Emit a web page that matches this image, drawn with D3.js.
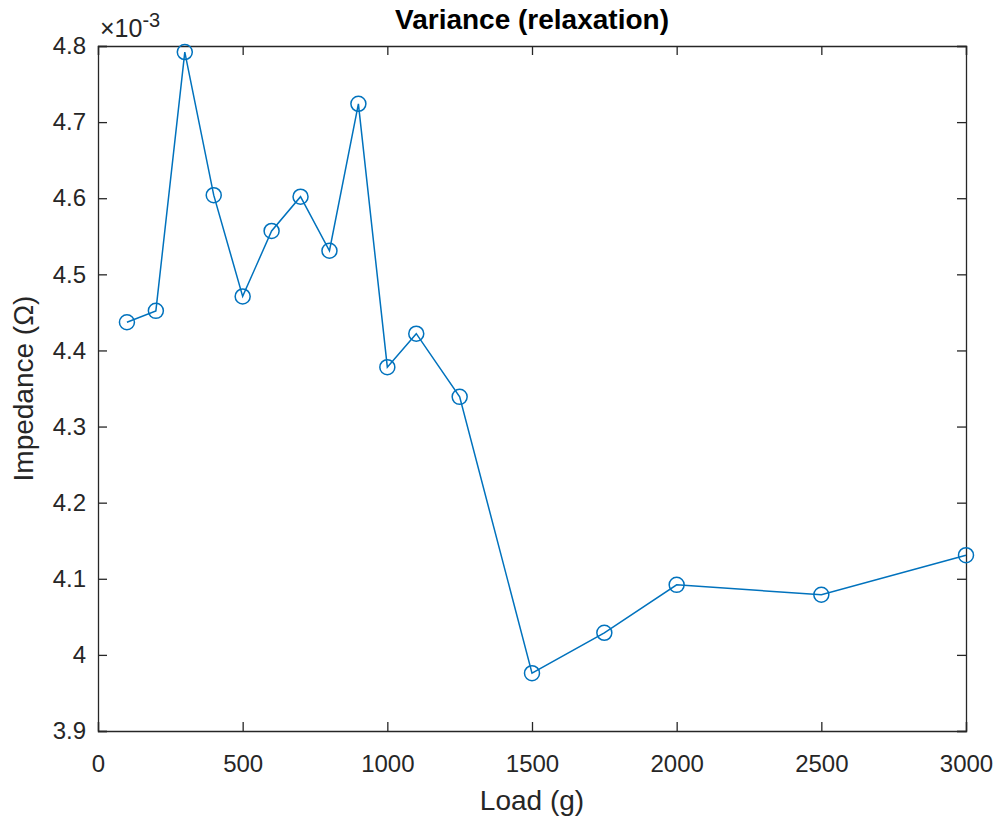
<!DOCTYPE html>
<html>
<head>
<meta charset="utf-8">
<script src="https://cdn.jsdelivr.net/npm/d3@7"></script>
<style>
  body { margin: 0; background: #fff; }
  text { font-family: "Liberation Sans", Arial, sans-serif; fill: #262626; }
</style>
</head>
<body>
<svg id="chart" width="999" height="818"></svg>
<script>
// load in grams
const loads = [100, 200, 300, 400, 500, 600, 700, 800, 900, 1000, 1100, 1250, 1500, 1750, 2000, 2500, 3000];
// impedance variance, in units of 1e-3 ohm
const impedance = [4.437, 4.452, 4.792, 4.604, 4.471, 4.557, 4.602, 4.531, 4.724, 4.378, 4.422, 4.339, 3.976, 4.029, 4.092, 4.079, 4.131];
const xTicks = [0, 500, 1000, 1500, 2000, 2500, 3000];
const yTicks = [3.9, 4, 4.1, 4.2, 4.3, 4.4, 4.5, 4.6, 4.7, 4.8];

const svg = d3.select("#chart");
const margin = {top: 46, right: 33, bottom: 87, left: 98};
const innerWidth = +svg.attr("width") - margin.left - margin.right;
const innerHeight = +svg.attr("height") - margin.top - margin.bottom;
const axisColor = "#262626";
const lineColor = "#0072BD";

const xScale = d3.scaleLinear().domain([0, 3000]).range([0, innerWidth]);
const yScale = d3.scaleLinear().domain([3.9, 4.8]).range([innerHeight, 0]);

const g = svg.append("g")
    .attr("transform", `translate(${margin.left},${margin.top})`);

const tickLen = 9;

// bottom + top axes (ticks pointing inward)
const xAxisG = g.append("g")
    .attr("transform", `translate(0,${innerHeight})`)
    .call(d3.axisBottom(xScale).tickValues(xTicks).tickSize(-tickLen).tickPadding(14).tickFormat(d3.format("d")));
const topAxisG = g.append("g")
    .call(d3.axisTop(xScale).tickValues(xTicks).tickSize(-tickLen));
topAxisG.selectAll("text").remove();

const yAxisG = g.append("g")
    .call(d3.axisLeft(yScale).tickValues(yTicks).tickSize(-tickLen).tickPadding(12).tickFormat(d => d === 4 ? "4" : d3.format(".1f")(d)));
const rightAxisG = g.append("g")
    .attr("transform", `translate(${innerWidth},0)`)
    .call(d3.axisRight(yScale).tickValues(yTicks).tickSize(-tickLen));
rightAxisG.selectAll("text").remove();

g.selectAll(".domain").attr("stroke", axisColor).attr("stroke-width", 1.3);
g.selectAll(".tick line").attr("stroke", axisColor).attr("stroke-width", 1.3);
g.selectAll(".tick text")
    .attr("fill", axisColor)
    .style("font-size", "24px")
    .style("font-family", "'Liberation Sans', Arial, sans-serif");
xAxisG.selectAll(".tick text").attr("y", 41).attr("dy", 0);

// line + markers
const line = d3.line()
    .x((d, i) => xScale(loads[i]))
    .y(d => yScale(d));

g.append("path")
    .datum(impedance)
    .attr("d", line)
    .attr("fill", "none")
    .attr("stroke", lineColor)
    .attr("stroke-width", 1.5);

g.selectAll("circle.pt")
    .data(impedance)
    .join("circle")
    .attr("class", "pt")
    .attr("cx", (d, i) => xScale(loads[i]))
    .attr("cy", d => yScale(d))
    .attr("r", 7.5)
    .attr("fill", "none")
    .attr("stroke", lineColor)
    .attr("stroke-width", 1.5);

// exponent label
const expo = g.append("text")
    .attr("x", 2)
    .attr("y", -9)
    .style("font-size", "25px");
expo.append("tspan").text("\u00D710");
expo.append("tspan").attr("dy", -10).style("font-size", "20px").text("-3");

// title
svg.append("text")
    .attr("x", margin.left + innerWidth / 2)
    .attr("y", 29)
    .attr("text-anchor", "middle")
    .style("font-size", "28px")
    .style("font-weight", "bold")
    .style("fill", "#000")
    .text("Variance (relaxation)");

// axis labels
svg.append("text")
    .attr("x", margin.left + innerWidth / 2)
    .attr("y", 810)
    .attr("text-anchor", "middle")
    .style("font-size", "28px")
    .text("Load (g)");

svg.append("text")
    .attr("transform", `translate(33,${margin.top + innerHeight / 2}) rotate(-90)`)
    .attr("text-anchor", "middle")
    .style("font-size", "28px")
    .text("Impedance (\u03A9)");
</script>
</body>
</html>
